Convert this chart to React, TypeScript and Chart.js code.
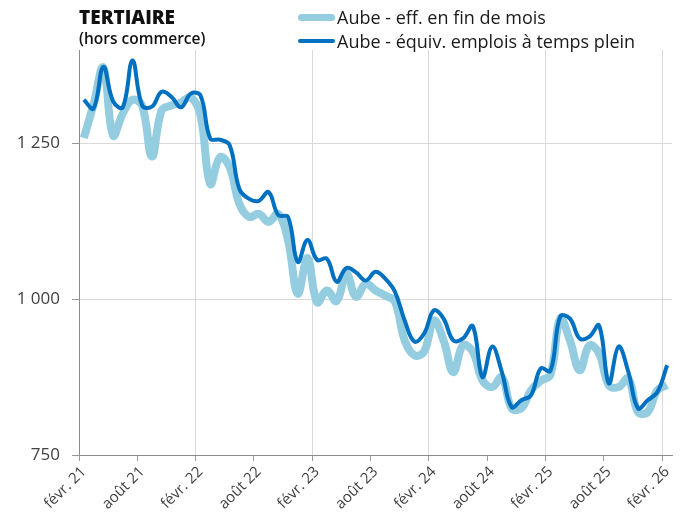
import React, { useEffect, useRef } from "react";
import { Chart, registerables } from "chart.js";

Chart.register(...registerables);

const MONTH_NAMES = ["janv.", "févr.", "mars", "avr.", "mai", "juin", "juil.", "août", "sept.", "oct.", "nov.", "déc."];
// Monthly categories from févr. 21 to févr. 26
const CATEGORIES: string[] = [];
for (let k = 1; k <= 61; k++) {
  const m = k % 12;
  const y = 21 + Math.floor(k / 12);
  CATEGORIES.push(`${MONTH_NAMES[m]} ${y}`);
}

const EFF_FIN_MOIS = [
  1259, 1313, 1372, 1263, 1298, 1320, 1310, 1229, 1303, 1311, 1316, 1324,
  1295, 1185, 1228, 1212, 1153, 1132, 1137, 1124, 1137, 1095, 1009, 1066,
  995, 1014, 997, 1041, 1004, 1025, 1014, 1006, 996, 934, 910, 916,
  966, 934, 883, 926, 916, 870, 859, 875, 825, 825, 854, 869,
  879, 969, 934, 886, 926, 913, 862, 859, 873, 819, 819, 854,
  862,
];

const EQUIV_ETP = [
  1320, 1306, 1373, 1318, 1308, 1383, 1311, 1309, 1333, 1325, 1308, 1330,
  1327, 1258, 1256, 1247, 1177, 1161, 1158, 1172, 1135, 1132, 1060, 1095,
  1063, 1065, 1028, 1050, 1043, 1030, 1044, 1033, 1012, 966, 932, 945,
  982, 969, 934, 937, 957, 875, 924, 883, 827, 838, 846, 889,
  885, 972, 969, 937, 940, 958, 865, 924, 884, 825, 838, 851,
  894,
];

const Y_TICKS = [750, 1000, 1250];
const SERIES_LABELS = ["Aube - eff. en fin de mois", "Aube - équiv. emplois à temps plein"];
const TITLE = "TERTIAIRE";
const SUBTITLE = "(hors commerce)";

const LIGHT = "#94cde0";
const DARK = "#0070c0";

function fmt(v: number): string {
  return String(v).replace(/\B(?=(\d{3})+(?!\d))/g, " ");
}

export default function App() {
  const ref = useRef<HTMLCanvasElement | null>(null);

  useEffect(() => {
    document.body.style.margin = "0";
    const canvas = ref.current;
    if (!canvas) return;
    const chart = new Chart(canvas, {
      type: "line",
      data: {
        labels: CATEGORIES,
        datasets: [
          {
            label: SERIES_LABELS[1],
            data: EQUIV_ETP,
            borderColor: DARK,
            borderWidth: 4,
            pointRadius: 0,
            tension: 0.4,
            fill: false,
          },
          {
            label: SERIES_LABELS[0],
            data: EFF_FIN_MOIS,
            borderColor: LIGHT,
            borderWidth: 8,
            pointRadius: 0,
            tension: 0.4,
            fill: false,
          },
        ],
      },
      options: {
        animation: false,
        responsive: false,
        maintainAspectRatio: false,
        layout: { padding: { top: 50, right: 16, left: 0, bottom: 0 } },
        plugins: { legend: { display: false }, tooltip: { enabled: false } },
        scales: {
          x: {
            type: "category",
            offset: true,
            grid: {
              offset: true,
              color: (ctx: any) => (ctx.index % 12 === 0 && ctx.index > 0 && ctx.index < 61 ? "#d9d9d9" : "rgba(0,0,0,0)"),
              tickColor: (ctx: any) => (ctx.index % 6 === 0 && ctx.index < 61 ? "#999999" : "rgba(0,0,0,0)"),
              tickLength: 6,
            },
            border: { color: "#8c8c8c", width: 1 },
            ticks: {
              autoSkip: false,
              maxRotation: 45,
              minRotation: 45,
              padding: 2,
              color: "#404040",
              font: { family: "Open Sans", size: 15 },
              callback: (_v: any, i: number) => (i % 6 === 0 ? CATEGORIES[i] : ""),
            },
            afterFit: (s: any) => {
              s.height = 67;
            },
          },
          y: {
            min: 750,
            max: 1400,
            afterBuildTicks: (s: any) => {
              s.ticks = Y_TICKS.map((v) => ({ value: v }));
            },
            grid: {
              color: (ctx: any) => (ctx.tick && ctx.tick.value === 750 ? "rgba(0,0,0,0)" : "#d9d9d9"),
              tickColor: "#999999",
              tickLength: 7,
            },
            border: { color: "#8c8c8c", width: 1 },
            ticks: {
              padding: 12,
              color: "#404040",
              font: { family: "Open Sans", size: 17 },
              callback: (v: any) => fmt(Number(v)),
            },
            afterFit: (s: any) => {
              s.width = 79;
            },
          },
        },
      },
    });
    return () => chart.destroy();
  }, []);

  const legendRow = (top: number, color: string, thick: number, text: string) => (
    <div style={{ position: "absolute", left: 298, top: top - 13, height: 26, display: "flex", alignItems: "center" }}>
      <div style={{ width: 37, height: thick, borderRadius: thick / 2, background: color, marginRight: 2 }} />
      <span style={{ fontFamily: "Open Sans", fontSize: 18, color: "#1a1a1a", whiteSpace: "nowrap" }}>{text}</span>
    </div>
  );

  return (
    <div style={{ position: "relative", width: 688, height: 522, background: "#fff" }}>
      <canvas ref={ref} width={688} height={522} style={{ position: "absolute", left: 0, top: 0, width: 688, height: 522 }} />
      <div style={{ position: "absolute", left: 79, top: 4, fontFamily: "Open Sans", fontWeight: 800, fontSize: 19, color: "#111", lineHeight: "26px" }}>{TITLE}</div>
      <div style={{ position: "absolute", left: 79, top: 27, fontFamily: "Open Sans", fontWeight: 600, fontSize: 15.5, color: "#111", lineHeight: "22px" }}>{SUBTITLE}</div>
      {legendRow(17, LIGHT, 7, SERIES_LABELS[0])}
      {legendRow(41, DARK, 4, SERIES_LABELS[1])}
    </div>
  );
}
